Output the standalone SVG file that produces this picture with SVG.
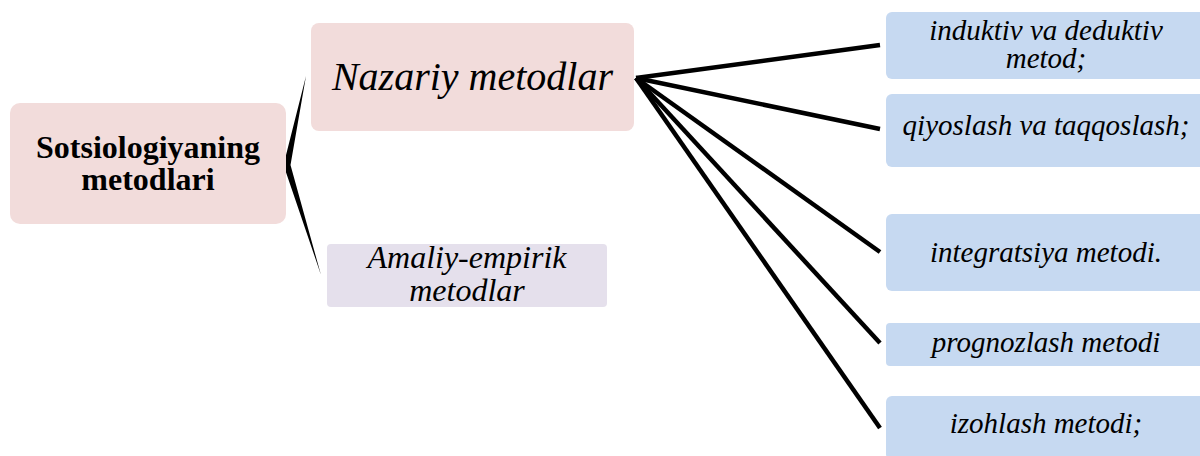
<svg xmlns="http://www.w3.org/2000/svg" width="1200" height="456" viewBox="0 0 1200 456">
<style>
.pink{fill:#F2DCDB}
.lav{fill:#E5E0EC}
.blue{fill:#C6D9F1}
text{font-family:'Liberation Serif','Times New Roman',Times,'DejaVu Serif',serif;fill:#000;text-anchor:middle}
.it{font-style:italic}
.conn{stroke:#000;stroke-width:4.5;fill:none;stroke-linecap:butt}
</style>
<rect width="1200" height="456" fill="#fff"/>
<g id="connectors">
<path d="M306,76 L283.5,165 L321,275 L290.5,165 Z" fill="#000"/>
<line class="conn" x1="636" y1="78" x2="880" y2="45"/>
<line class="conn" x1="636" y1="78" x2="880" y2="129"/>
<line class="conn" x1="636" y1="78" x2="880" y2="252"/>
<line class="conn" x1="636" y1="78" x2="880" y2="343"/>
<line class="conn" x1="636" y1="78" x2="880" y2="428"/>
</g>
<g id="root">
<rect class="pink" x="10" y="103" width="276" height="121" rx="10"/>
<text x="148" y="158" font-size="32" font-weight="bold">Sotsiologiyaning</text>
<text x="148" y="190" font-size="32" font-weight="bold">metodlari</text>
</g>
<g id="nazariy">
<rect class="pink" x="311" y="23" width="323" height="108" rx="8"/>
<text class="it" x="472.5" y="90" font-size="40">Nazariy metodlar</text>
</g>
<g id="amaliy">
<rect class="lav" x="327" y="244" width="280" height="63" rx="4"/>
<text class="it" x="467" y="268" font-size="32">Amaliy-empirik</text>
<text class="it" x="467" y="301" font-size="32">metodlar</text>
</g>
<g id="induktiv">
<rect class="blue" x="886" y="12" width="330" height="67" rx="6"/>
<text class="it" x="1046" y="40" font-size="29">induktiv va deduktiv</text>
<text class="it" x="1046" y="68" font-size="29">metod;</text>
</g>
<g id="qiyoslash">
<rect class="blue" x="886" y="94" width="330" height="73" rx="6"/>
<text class="it" x="1046" y="135" font-size="29">qiyoslash va taqqoslash;</text>
</g>
<g id="integratsiya">
<rect class="blue" x="886" y="214" width="330" height="77" rx="6"/>
<text class="it" x="1046" y="262" font-size="29">integratsiya metodi.</text>
</g>
<g id="prognozlash">
<rect class="blue" x="886" y="323" width="330" height="43" rx="4"/>
<text class="it" x="1046" y="352" font-size="29">prognozlash metodi</text>
</g>
<g id="izohlash">
<rect class="blue" x="886" y="396" width="330" height="64" rx="6"/>
<text class="it" x="1046" y="433" font-size="29">izohlash metodi;</text>
</g>
</svg>
